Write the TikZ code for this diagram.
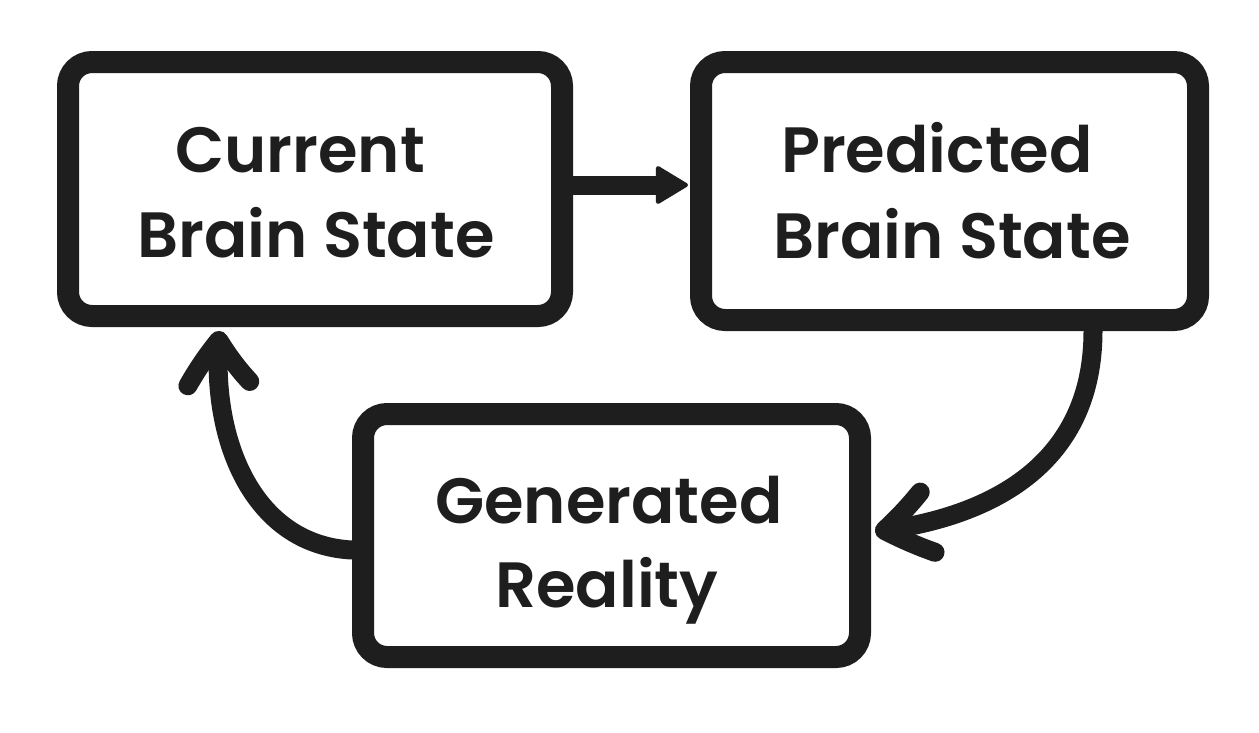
\documentclass[tikz,border=0pt]{standalone}
\usepackage{fontspec}
\setmainfont{Poppins}[BoldFont={Poppins SemiBold}]
\usetikzlibrary{arrows.meta,bending,calc}
\definecolor{ink}{HTML}{1E1E1E}
\begin{document}
\begin{tikzpicture}[x=1pt,y=-1pt,
  box/.style={draw=ink, line width=22pt, rounded corners=24pt, fill=white, inner sep=0pt},
  txt/.style={anchor=base, inner sep=0pt, text=ink, font=\fontsize{64}{85}\selectfont\bfseries},
  conn/.style={draw=ink, line width=19pt, line cap=round},
  barb/.style={-{Straight Barb[length=44pt, width=62pt, round, bend]}}]
\useasboundingbox (0,0) rectangle (1259,732);
\fill[white] (0,0) rectangle (1259,732);
\node[box, minimum width=494pt, minimum height=254pt] (b1) at (315,189) {};
\node[box, minimum width=497pt, minimum height=258pt] (b2) at (949.5,191) {};
\node[box, minimum width=497pt, minimum height=243pt] (b3) at (611.5,535.5) {};
\node[txt] (t1a) at (300,172) {Current};
\node[txt] (t1b) at (316,257) {Brain State};
\node[txt] (t2a) at (937,172) {Predicted};
\node[txt] (t2b) at (952,258) {Brain State};
\node[txt] (t3a) at (609,523) {Generated};
\node[txt] (t3b) at (607,607) {Reality};
\draw[conn, -{Triangle[round, length=34pt, width=40pt, line width=4pt]}, shorten >=2pt]
  ([yshift=4pt]b1.east) -- ([yshift=4pt]b1.east -| b2.west);
\draw[conn, barb, shorten >=4pt]
  ([xshift=143.5pt]b2.south) .. controls +(0,140) and +(110,-12) .. ([yshift=3.5pt]b3.east);
\draw[conn, barb, shorten >=4pt]
  ([yshift=-14.5pt]b3.west) .. controls +(-100,-5) and +(-12,110) .. ([xshift=-95pt]b1.south);
\end{tikzpicture}
\end{document}
